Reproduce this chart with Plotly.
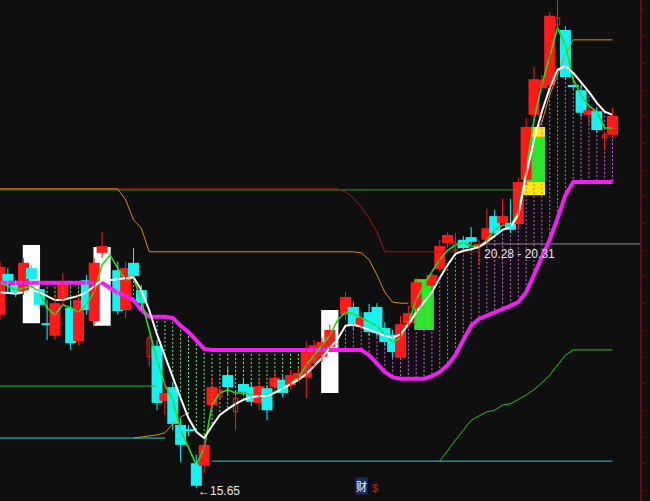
import plotly.graph_objects as go

# ---------------- data (prices) ----------------
opens = [18.95, 19.73, 19.52, 19.40, 19.84, 19.44, 18.76, 18.55, 19.23, 19.08,
         18.45, 19.61, 18.83, 20.13, None, 19.80, 19.04, 19.94, 19.42, 18.15,
         18.36, 17.31, 17.57, 16.85, 16.75, 16.12, 16.07, 17.23, 17.38, 17.80,
         17.10, 17.63, 17.57, 17.27, 17.55, 17.57, 17.71, 17.61, 17.76, 17.75,
         18.03, 18.15, 18.34, None, 18.95, 19.10, 18.74, 19.00, 19.10, 18.70,
         18.57, 18.13, 18.79, 19.08, None, 19.50, 19.82, 20.32, 20.18, 20.38,
         20.43, 20.26, 20.38, 20.83, 20.70, 20.70, 20.68, 21.52, 22.76, 23.27,
         23.33, 24.47, 24.38, 23.31, 23.23, 22.76, 22.83, 22.32, 22.38]
highs = [19.96, 19.84, 19.61, 20.03, 19.90, 19.61, 19.23, 19.33, 19.75, 19.23,
         19.31, 19.71, 20.03, 20.53, None, 19.96, 19.96, 20.22, 19.52, 18.57,
         18.47, 17.71, 17.67, 16.98, 16.85, 16.28, 16.56, 17.75, 17.59, 17.94,
         17.42, 17.75, 17.67, 17.71, 17.61, 17.86, 17.78, 17.90, 17.94, 18.45,
         18.47, 18.51, 18.76, None, 19.38, 19.19, 19.00, 19.16, 19.17, 18.81,
         18.66, 18.93, 19.12, 19.65, None, 19.80, 20.38, 20.53, 20.51, 20.45,
         20.62, 20.38, 20.97, 20.95, 21.16, 21.16, 21.56, 22.70, 23.67, 23.52,
         24.72, 24.95, 24.45, 23.35, 23.33, 22.95, 22.89, 22.43, 22.89]
lows = [18.85, 19.37, 19.29, 19.33, 19.56, 19.06, 18.47, 18.47, 19.14, 18.28,
        18.37, 18.95, 18.76, 20.03, None, 18.95, 18.89, 19.61, 19.04, 17.97,
        17.13, 17.04, 16.75, 16.14, 16.64, 15.65, 15.93, 17.13, 17.33, 17.42,
        16.75, 17.42, 17.21, 17.13, 16.94, 17.48, 17.38, 17.52, 17.67, 17.36,
        17.94, 18.05, 18.24, None, 18.85, 18.66, 18.66, 18.55, 18.53, 18.36,
        18.13, 18.11, 18.72, 19.00, None, 19.42, 19.77, 20.24, 20.15, 20.17,
        20.28, 19.90, 20.32, 20.45, 20.64, 20.51, 20.60, 21.42, 22.70, 23.20,
        23.27, 24.38, 23.43, 23.25, 22.72, 22.57, 22.42, 22.09, 22.32]
closes = [19.86, 19.56, 19.37, 19.94, 19.63, 19.14, 18.75, 19.17, 19.59, 18.41,
          19.23, 19.04, 19.94, 20.26, None, 19.02, 19.84, 19.69, 19.17, 18.51,
          17.27, 17.46, 16.87, 16.47, 16.73, 15.69, 16.47, 17.57, 17.52, 17.57,
          17.36, 17.48, 17.29, 17.59, 17.13, 17.75, 17.46, 17.80, 17.84, 18.24,
          18.37, 18.43, 18.66, None, 19.29, 18.76, 18.89, 18.62, 18.60, 18.43,
          18.24, 18.77, 18.98, 19.57, None, 19.71, 20.26, 20.47, 20.32, 20.22,
          20.34, 20.30, 20.60, 20.51, 20.83, 20.57, 21.48, 22.53, 23.44, 23.43,
          24.65, 24.61, 23.48, 23.29, 22.80, 22.85, 22.47, 22.38, 22.74]
hollow = [19, 28, 30, 58, 71, 77]

white_ma = [19.38, 19.37, 19.35, 19.38, 19.42, 19.38, 19.31, 19.23, 19.23, 19.27,
            19.31, 19.38, 19.50, 19.61, 19.61, 19.63, 19.65, 19.67, 19.42, 19.04,
            18.57, 18.18, 17.76, 17.36, 16.98, 16.72, 16.60, 16.83, 17.04, 17.15,
            17.25, 17.33, 17.38, 17.40, 17.40, 17.46, 17.55, 17.63, 17.71, 17.82,
            17.97, 18.13, 18.32, 18.49, 18.74, 18.76, 18.72, 18.66, 18.60, 18.55,
            18.51, 18.58, 18.76, 19.00, 19.19, 19.38, 19.65, 19.90, 20.11, 20.17,
            20.20, 20.24, 20.34, 20.45, 20.57, 20.62, 20.85, 21.61, 22.28, 22.82,
            23.27, 23.62, 23.69, 23.56, 23.39, 23.20, 22.99, 22.82, 22.76]
green_ma = [19.56, 19.50, 19.42, 19.46, 19.50, 19.37, 19.08, 18.95, 19.14, 19.08,
            19.00, 19.14, 19.38, 19.90, 20.09, 19.84, 19.61, 19.65, 19.23, 18.66,
            18.09, 17.61, 17.33, 16.75, 16.43, 16.09, 16.41, 17.23, 17.46, 17.52,
            17.46, 17.46, 17.42, 17.38, 17.42, 17.48, 17.52, 17.65, 17.75, 17.99,
            18.18, 18.37, 18.56, 18.85, 19.00, 18.97, 18.89, 18.81, 18.74, 18.57,
            18.43, 18.51, 18.81, 19.23, 19.52, 19.77, 20.00, 20.18, 20.28, 20.32,
            20.26, 20.24, 20.38, 20.57, 20.66, 20.64, 20.91, 21.71, 22.66, 23.33,
            23.90, 24.42, 24.09, 23.43, 23.14, 22.93, 22.82, 22.51, 22.51]
support = [19.56] * 14 + [19.46, 19.37, 19.31, 19.23, 19.04, 18.91, 18.91, 18.91,
           18.89, 18.74, 18.62, 18.47, 18.30] + [18.28] * 20 + [
           18.18, 18.01, 17.86, 17.76, 17.73, 17.73, 17.73, 17.73, 17.78, 17.86,
           17.99, 18.18, 18.47, 18.74, 18.87, 18.93, 18.98, 19.06, 19.12, 19.19,
           19.38, 19.71, 20.03, 20.38, 20.79, 21.23] + [21.48] * 6
upper_red = [21.35] * 44 + [21.29, 21.18, 21.00, 20.79, 20.53] + [20.15] * 13 + [None] * 17
upper_green = [21.33] * 67 + [None] * 12
orange_line = [21.35] * 16 + [21.14, 20.76, 20.60] + [20.15] * 27 + [
               20.13, 20.00, 19.71, 19.38, 19.19, 19.17, 19.17] + [None] * 15 + [
               22.38, 22.62, 23.14, 23.52, 23.90] + [24.19] * 6
lower_orange = [None] * 17 + [16.60, 16.62, 16.64, 16.66, 16.70, 16.87, 17.00, 17.08] + [None] * 54
cyan_line = [16.60] * 22 + [None] * 5 + [16.16] * 52
green_low = [17.59] * 21 + [None] * 35 + [
             16.16, 16.37, 16.56, 16.75, 16.94, 17.02, 17.10, 17.13, 17.23, 17.25,
             17.33, 17.42, 17.52, 17.65, 17.80, 17.99, 18.18] + [18.28] * 6

# signal columns: (index, bottom, top)
white_box_idx = [4, 13, 42]
white_box_bot = [18.79, 18.74, 17.46]
white_box_top = [20.28, 20.24, 19.04]
green_box_idx = [54, 68]
green_box_bot = [18.66, 21.48]
green_box_top = [19.63, 22.34]
yellow_box_idx = [68, 68]
yellow_box_bot = [21.23, 22.34]
yellow_box_top = [21.48, 22.53]

cursor_price = 20.30
low_price = 15.65
range_label = "20.28 - 20.31"

# ---------------- figure ----------------
n = len(opens)
BG = "#0f0f0f"
RED = "#ff1a1a"
CYAN = "#19f0f0"
fig = go.Figure()


def boxes(idx, bot, top, color, width):
    fig.add_trace(go.Bar(x=idx, base=bot, y=[t - b for b, t in zip(bot, top)],
                         width=width, marker=dict(color=color, line=dict(width=0)),
                         hoverinfo="skip"))


boxes(white_box_idx, white_box_bot, white_box_top, "#ffffff", 2.2)
boxes(green_box_idx, green_box_bot, green_box_top, "#22ee22", [2.5, 2.8])
boxes(yellow_box_idx, yellow_box_bot, yellow_box_top, "#ffee00", 2.8)

# dotted verticals between support line and white MA
gx, gy, vx, vy = [], [], [], []
for i in range(n):
    m, w = support[i], white_ma[i]
    if m is None or w is None:
        continue
    if m >= w:
        gx += [i, i, None]; gy += [m, w, None]
    else:
        vx += [i, i, None]; vy += [w, m, None]
fig.add_trace(go.Scatter(x=gx, y=gy, mode="lines",
                         line=dict(color="#6cf06c", width=1, dash="2px,2px")))
fig.add_trace(go.Scatter(x=vx, y=vy, mode="lines",
                         line=dict(color="#e050f0", width=1, dash="2px,2px")))


def line(vals, color, width=1):
    fig.add_trace(go.Scatter(x=list(range(n)), y=vals, mode="lines",
                             line=dict(color=color, width=width), connectgaps=False))


line(upper_green, "#1fa31f")
line(upper_red, "#b01010")
line(orange_line, "#e08a10")
line(lower_orange, "#c8902a")
line(cyan_line, "#2ad0d0")
line(green_low, "#2bbf2b")
fig.add_trace(go.Scatter(x=[61.2, 81.5], y=[cursor_price, cursor_price], mode="lines",
                         line=dict(color="#8a8a8a", width=1)))
line(support, "#f020f0", 4)
line(green_ma, "#22dd22", 1.6)
line(white_ma, "#ffffff", 2)

# wicks
for col, up in ((RED, True), (CYAN, False)):
    wx, wy = [], []
    for i in range(n):
        if opens[i] is None:
            continue
        if (closes[i] >= opens[i]) == up:
            wx += [i, i, None]; wy += [lows[i], highs[i], None]
    fig.add_trace(go.Scatter(x=wx, y=wy, mode="lines", line=dict(color=col, width=1)))

# hollow small candles
hx = [i for i in hollow]
fig.add_trace(go.Bar(x=hx, base=[min(opens[i], closes[i]) for i in hx],
                     y=[max(abs(closes[i] - opens[i]), 0.04) for i in hx],
                     width=0.55, marker=dict(color=BG, line=dict(color=RED, width=1))))

# solid candle bodies
bx, bb, bh, bc = [], [], [], []
for i in range(n):
    if opens[i] is None or i in hollow:
        continue
    bx.append(i)
    bb.append(min(opens[i], closes[i]))
    bh.append(max(abs(closes[i] - opens[i]), 0.04))
    bc.append(RED if closes[i] >= opens[i] else CYAN)
fig.add_trace(go.Bar(x=bx, base=bb, y=bh, width=1.4,
                     marker=dict(color=bc, line=dict(width=0))))

fig.add_annotation(x=61.4, y=20.11, text=range_label, showarrow=False, xanchor="left",
                   font=dict(family="Liberation Sans, Arial", size=12, color="#e8e8e8"))
fig.add_annotation(x=25.0, y=low_price - 0.05, text="\u2190" + f"{low_price:.2f}", showarrow=False,
                   xanchor="left", yanchor="middle",
                   font=dict(family="Liberation Sans, Arial", size=12, color="#e8e8e8"))
fig.add_annotation(xref="paper", yref="paper", x=361 / 640, y=0.012, text="财", showarrow=False,
                   font=dict(family="Noto Sans CJK SC", size=11, color="#ffffff"),
                   bgcolor="#1c2a66", borderpad=0)
fig.add_annotation(xref="paper", yref="paper", x=375 / 640, y=0.01, text="$", showarrow=False,
                   font=dict(family="Liberation Sans", size=11, color="#e01010"))

fig.update_layout(
    width=650, height=501, margin=dict(l=0, r=10, t=0, b=0),
    paper_bgcolor=BG, plot_bgcolor=BG, showlegend=False, barmode="overlay",
    xaxis=dict(range=[0, 81.5], visible=False, fixedrange=True),
    yaxis=dict(range=[15.40, 24.95], side="right", showline=True, linecolor="#5c0c0c",
               linewidth=2, ticks="outside", ticklen=3, tickcolor="#5c0c0c",
               tick0=24.76, dtick=0.509, showticklabels=False, showgrid=False,
               zeroline=False, fixedrange=True),
)
fig.write_html("out.html", config={"displayModeBar": False},
               post_script="document.body.style.margin='0px';"
                           "document.body.style.overflow='hidden';"
                           "document.body.style.background='#0f0f0f';")
